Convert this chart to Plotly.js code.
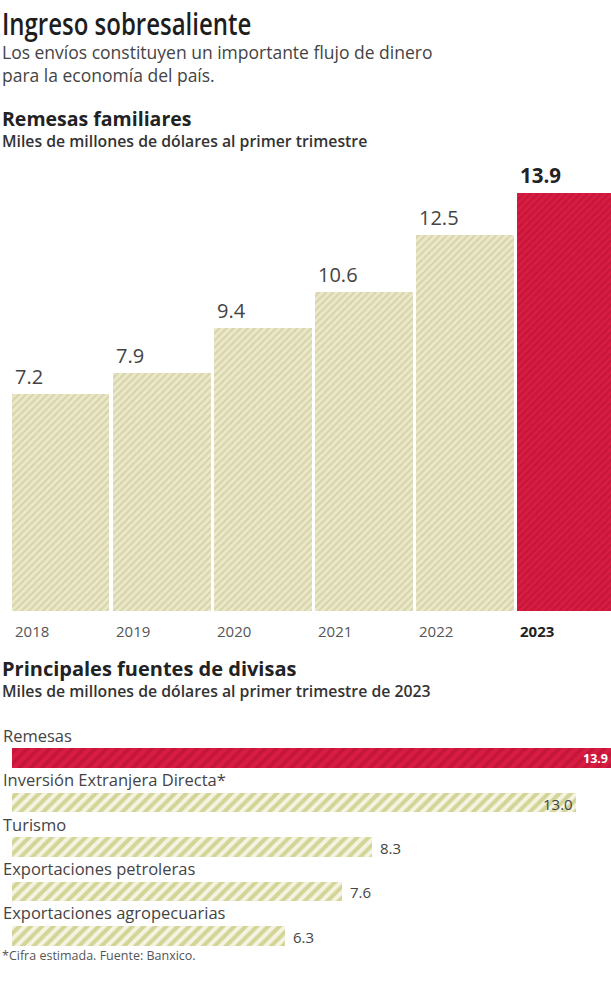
<!DOCTYPE html>
<html>
<head>
<meta charset="utf-8">
<script src="https://cdn.plot.ly/plotly-3.0.1.min.js"></script>
<style>html,body{margin:0;padding:0;background:#fff;overflow:hidden}#chart{width:611px;height:1002px}</style>
</head>
<body>
<div id="chart"></div>
<script>
// ---- Data ----
const years = ['2018', '2019', '2020', '2021', '2022', '2023'];
const remesasAnuales = [7.2, 7.9, 9.4, 10.6, 12.5, 13.9];
const yearValueLabels = ['7.2', '7.9', '9.4', '10.6', '12.5', '13.9'];
const fuentes = ['Remesas', 'Inversión Extranjera Directa*', 'Turismo', 'Exportaciones petroleras', 'Exportaciones agropecuarias'];
const fuentesValores = [13.9, 13.0, 8.3, 7.6, 6.3];
const valueLabels = ['13.9', '13.0', '8.3', '7.6', '6.3'];

// ---- Styles ----
const BEIGE = '#ebe8c9', BEIGE_FG = '#d6d3aa';
const RED = '#d81c42', RED_FG = '#c4153a';
const BEIGE2 = '#f5f3e2', BEIGE2_FG = '#d2d596';
const H = 1002, W = 611;
const py = px => 1 - px / H;
const FONT = '"Open Sans", "Noto Sans", sans-serif';

const idx = years.map((_, i) => i);
const hidx = fuentes.map((_, i) => i);
const lastY = years.length - 1;

function barTrace(xs, ys, orient, axes, bg, fg, size, sol, width) {
  return {
    type: 'bar', orientation: orient, x: xs, y: ys, xaxis: axes[0], yaxis: axes[1], width,
    marker: { color: bg, line: { width: 0 },
      pattern: { shape: '/', fillmode: 'replace', bgcolor: bg, fgcolor: fg, size, solidity: sol } },
    hoverinfo: 'skip', showlegend: false
  };
}

const traces = [
  barTrace(idx.slice(0, lastY), remesasAnuales.slice(0, lastY), 'v', ['x', 'y'], BEIGE, BEIGE_FG, 5, 0.4, 0.97),
  barTrace([idx[lastY]], [remesasAnuales[lastY]], 'v', ['x', 'y'], RED, RED_FG, 5, 0.4, 0.97),
  barTrace([fuentesValores[0]], [hidx[0]], 'h', ['x2', 'y2'], RED, RED_FG, 8, 0.45, 0.44),
  barTrace(fuentesValores.slice(1), hidx.slice(1), 'h', ['x2', 'y2'], BEIGE2, BEIGE2_FG, 8, 0.5, 0.44)
];

const ann = [];
function txt(text, y, size, color, opts) {
  ann.push(Object.assign({ text, x: 0, xref: 'paper', y: py(y), yref: 'paper', xanchor: 'left', yanchor: 'middle',
    showarrow: false, align: 'left', font: { family: FONT, size, color } }, opts || {}));
}
txt('Ingreso sobresaliente', 24, 30, '#1e1e1e', { font: { family: FONT, size: 30, color: '#1e1e1e', weight: 600 } });
txt('Los envíos constituyen un importante flujo de dinero<br>para la economía del país.', 63.5, 17.5, '#444');
txt('<b>Remesas familiares</b>', 118, 19.5, '#222');
txt('Miles de millones de dólares al primer trimestre', 141, 15.8, '#333', { font: { family: FONT, size: 15.8, color: '#333', weight: 600 } });
txt('<b>Principales fuentes de divisas</b>', 668, 20, '#222');
txt('Miles de millones de dólares al primer trimestre de 2023', 691, 15.8, '#333', { font: { family: FONT, size: 15.8, color: '#333', weight: 600 } });
txt('*Cifra estimada. Fuente: Banxico.', 955, 12.5, '#555');

// top value labels and year labels
years.forEach((yr, i) => {
  const last = i === lastY;
  ann.push({ text: last ? '<b>' + yearValueLabels[i] + '</b>' : yearValueLabels[i], x: i - 0.47, xref: 'x', y: remesasAnuales[i], yref: 'y',
    xanchor: 'left', yanchor: 'bottom', yshift: 2, showarrow: false,
    font: { family: FONT, size: last ? 20.5 : 20, color: last ? '#222' : '#444' } });
  ann.push({ text: last ? '<b>' + yr + '</b>' : yr, x: i - 0.47, xref: 'x', y: py(631), yref: 'paper',
    xanchor: 'left', yanchor: 'middle', showarrow: false,
    font: { family: FONT, size: 15, color: last ? '#222' : '#555' } });
});

// bottom category labels and values
fuentes.forEach((f, i) => {
  ann.push({ text: f, x: 0, xref: 'x2', y: i, yref: 'y2', xanchor: 'left', yanchor: 'middle', yshift: 23, xshift: -11,
    showarrow: false, font: { family: FONT, size: 16.5, color: '#444' } });
  const inside = fuentesValores[i] >= 13;
  ann.push({ text: i === 0 ? '<b>' + valueLabels[i] + '</b>' : valueLabels[i], x: inside ? Math.min(fuentesValores[i], 13.8) : fuentesValores[i], xref: 'x2', y: i, yref: 'y2',
    xanchor: inside ? 'right' : 'left', yanchor: 'middle', xshift: inside ? -1 : 6, yshift: i === 0 ? 0 : -1,
    showarrow: false, font: { family: FONT, size: i === 0 ? 12.5 : 15, color: i === 0 ? '#fff' : '#444' } });
});

const layout = {
  width: W, height: H,
  margin: { l: 0, r: 0, t: 0, b: 0 },
  paper_bgcolor: '#fff', plot_bgcolor: 'rgba(0,0,0,0)',
  barmode: 'overlay', bargap: 0,
  xaxis: { domain: [10 / W, 1], range: [-0.5, 5.45], visible: false, fixedrange: true },
  yaxis: { domain: [py(611), py(170)], range: [0, 14.65], visible: false, fixedrange: true },
  xaxis2: { domain: [12 / W, 1], range: [0, 13.8], visible: false, anchor: 'y2', fixedrange: true },
  yaxis2: { domain: [py(960), py(730)], range: [4.54, -0.63], visible: false, anchor: 'x2', fixedrange: true },
  annotations: ann,
  font: { family: FONT }
};

Plotly.newPlot('chart', traces, layout, { displayModeBar: false, staticPlot: true }).then(gd => {
  // condense the main headline horizontally, as in the reference
  gd.querySelectorAll('.annotation-text').forEach(t => {
    if (t.textContent === 'Ingreso sobresaliente') {
      t.style.transformBox = 'fill-box';
      t.style.transformOrigin = '0 50%';
      t.style.transform = 'scaleX(0.8)';
    }
  });
});
</script>
</body>
</html>
